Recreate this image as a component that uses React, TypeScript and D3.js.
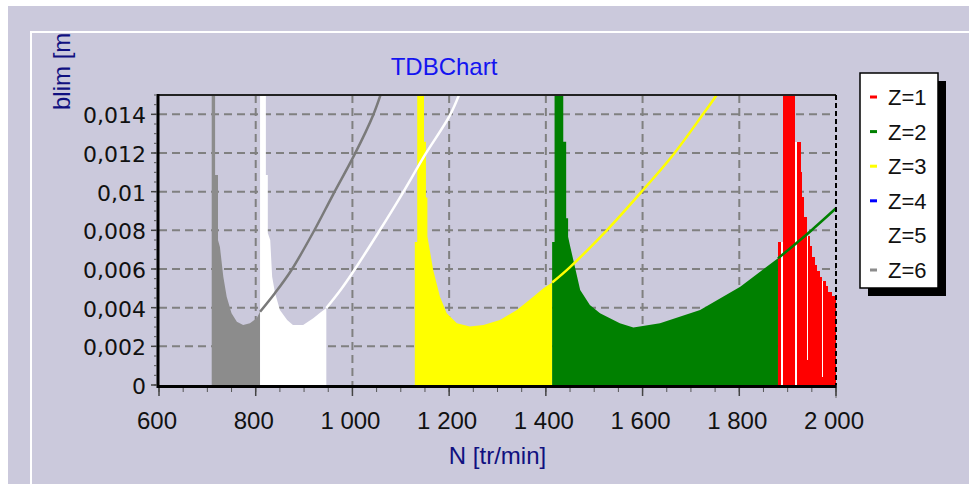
import React from 'react';
import * as d3 from 'd3';

const W = 969;
const H = 484;
const PL = 159, PR = 836, PT = 95, PB = 385;

const xTicks = [600, 800, 1000, 1200, 1400, 1600, 1800, 2000];
const yTicks = [0, 0.002, 0.004, 0.006, 0.008, 0.01, 0.012, 0.014];
const seriesNames = ['Z=1', 'Z=2', 'Z=3', 'Z=4', 'Z=5', 'Z=6'];
const seriesColors = ['#ff0000', '#008000', '#ffff00', '#0000ff', '#ffffff', '#8c8c8c'];

// Z=6 (gray) lobe: filled part then continuing line
const z6Fill: [number, number][] = [
  [709, 0.02], [716, 0.02], [716, 0.01086], [722, 0.01086], [722, 0.0075], [726, 0.00714],
  [733, 0.0056], [740, 0.00457], [750, 0.00371], [761, 0.00327], [774, 0.0031],
  [788, 0.00319], [802, 0.00345], [809, 0.00379],
];
const z6Line: [number, number][] = [
  [809, 0.00379], [840, 0.00476], [874, 0.00595], [919, 0.0079], [960, 0.00985],
  [1004, 0.0119], [1043, 0.01397], [1062, 0.0153],
];
// Z=5 (white)
const z5Fill: [number, number][] = [
  [809, 0.02], [821, 0.02], [821, 0.01086], [825, 0.01086], [825, 0.00786], [830, 0.0075],
  [834, 0.0056], [840, 0.00476], [850, 0.00388], [865, 0.00336], [877, 0.0031],
  [898, 0.0031], [919, 0.00345], [933, 0.00374], [946, 0.00398],
];
const z5Line: [number, number][] = [
  [946, 0.00398], [975, 0.0049], [1004, 0.00595], [1054, 0.0079], [1102, 0.00985],
  [1150, 0.0119], [1202, 0.01397], [1225, 0.0153],
];
// Z=3 (yellow)
const z3Fill: [number, number][] = [
  [1129, 0.0074], [1134, 0.0074], [1134, 0.02], [1148, 0.02], [1148, 0.01258], [1152, 0.01258],
  [1152, 0.0097], [1155, 0.0097], [1155, 0.0077], [1167, 0.00595], [1181, 0.00457],
  [1195, 0.00371], [1216, 0.00319], [1243, 0.00302], [1271, 0.0031], [1305, 0.00336],
  [1340, 0.00388], [1374, 0.00457], [1395, 0.005], [1413, 0.0053],
];
const z3Line: [number, number][] = [
  [1413, 0.0053], [1450, 0.0061], [1526, 0.008], [1598, 0.0100], [1663, 0.0119],
  [1722, 0.0139], [1753, 0.015], [1765, 0.0155],
];
// Z=2 (green)
const z2Fill: [number, number][] = [
  [1413, 0.0074], [1418, 0.0074], [1418, 0.02], [1436, 0.02], [1436, 0.01258], [1442, 0.01258],
  [1442, 0.00862], [1446, 0.00862], [1446, 0.00767], [1450, 0.0072], [1460, 0.00612],
  [1471, 0.00491], [1491, 0.00414], [1512, 0.00371], [1553, 0.00319], [1581, 0.00298],
  [1636, 0.00319], [1719, 0.00388], [1802, 0.00508], [1843, 0.00586], [1880, 0.00655],
];
const z2Line: [number, number][] = [
  [1880, 0.00655], [1946, 0.00793], [2000, 0.00914],
];
// Z=1 (red) bars: start N of each bar and its value; last bar ends at redEnd
const redStart = [1880, 1887, 1891, 1915, 1919, 1928, 1930, 1934, 1940, 1942, 1946, 1950, 1957, 1961, 1967, 1971, 1973, 1979, 1983, 1992];
const redValue = [0.0074, 0, 0.02, 0, 0.01258, 0.011, 0.0097, 0.0087, 0.0013, 0.0077, 0.0072, 0.0066, 0.0062, 0.0059, 0.0056, 0.0004, 0.0054, 0.0051, 0.0048, 0.0046];
const redEnd = 2000;

const SANS = "'Liberation Sans', Arial, sans-serif";
const DEJA = "'DejaVu Sans', sans-serif";

export default function App() {
  const x = d3.scaleLinear().domain([600, 2000]).range([PL, PR]);
  const y = d3.scaleLinear().domain([0, 0.015]).range([PB, PT]);

  const area = d3.area<[number, number]>().x(d => x(d[0])).y0(y(0)).y1(d => y(d[1]));
  const line = d3.line<[number, number]>().x(d => x(d[0])).y(d => y(d[1])).curve(d3.curveCatmullRom.alpha(0.5));

  const fmtX = d3.formatLocale({ decimal: ',', thousands: ' ', grouping: [3], currency: ['', ''] }).format(',');
  const fmtY = (v: number) => d3.format('.3~f')(v).replace('.', ',');

  const minorX = d3.range(600, 2000.1, 50);
  const minorY = d3.range(0, 0.0150001, 0.0005);

  const fills = [
    { d: z6Fill, c: seriesColors[5] },
    { d: z5Fill, c: seriesColors[4] },
    { d: z3Fill, c: seriesColors[2] },
    { d: z2Fill, c: seriesColors[1] },
  ];
  const lines = [
    { d: z6Line, c: '#7a7a7a' },
    { d: z5Line, c: seriesColors[4] },
    { d: z3Line, c: seriesColors[2] },
    { d: z2Line, c: seriesColors[1] },
  ];

  const redBars = redStart.map((s, i) => {
    const e = i < redStart.length - 1 ? redStart[i + 1] : redEnd;
    const prev = i > 0 ? redValue[i - 1] : 0;
    const next = i < redValue.length - 1 ? redValue[i + 1] : 0;
    const env = Math.min(prev, next);
    const gap = redValue[i] < 0.5 * env;
    return { s, e, v: redValue[i], gap, env };
  });

  const legX = 860, legY = 73, legW = 78, legH = 215;
  const rowH = 34.6;

  return (
    <svg width={W} height={H} style={{ position: 'absolute', left: 0, top: 0 }}>
      <defs>
        <clipPath id="plotClip">
          <rect x={PL} y={PT} width={PR - PL} height={PB - PT} />
        </clipPath>
        <clipPath id="panelClip">
          <rect x={32} y={33} width={W} height={H} />
        </clipPath>
      </defs>
      <rect x={0} y={0} width={W} height={H} fill="#ffffff" />
      <rect x={8} y={6} width={W - 8} height={H - 6} fill="#cbc9dc" />
      <line x1={31} y1={32} x2={31} y2={H} stroke="#ffffff" strokeWidth={2} />
      <line x1={30} y1={32} x2={W} y2={32} stroke="#ffffff" strokeWidth={2} />

      {/* grid */}
      <g stroke="#808080" strokeWidth={2} strokeDasharray="8,5">
        {xTicks.slice(1, -1).map(t => (
          <line key={'gx' + t} x1={x(t)} x2={x(t)} y1={PT} y2={PB} />
        ))}
        {yTicks.slice(1).map(t => (
          <line key={'gy' + t} x1={PL} x2={PR} y1={y(t)} y2={y(t)} />
        ))}
      </g>

      <g clipPath="url(#plotClip)">
        {fills.map((f, i) => (
          <path key={'f' + i} d={area(f.d) || ''} fill={f.c} />
        ))}
        {redBars.map((b, i) => (
          <g key={'r' + i} shapeRendering="crispEdges">
            {b.gap && (
              <rect x={x(b.s)} width={x(b.e) - x(b.s)} y={y(b.env)} height={y(b.v) - y(b.env)} fill="#ffffff" />
            )}
            {b.v > 0 && (
              <rect x={x(b.s)} width={x(b.e) - x(b.s)} y={y(b.v)} height={y(0) - y(b.v)} fill={seriesColors[0]} />
            )}
          </g>
        ))}
        {lines.map((l, i) => (
          <path key={'l' + i} d={line(l.d) || ''} fill="none" stroke={l.c} strokeWidth={2.5} />
        ))}
      </g>

      {/* frame */}
      <line x1={PL} x2={PR} y1={PT} y2={PT} stroke="#222" strokeWidth={2} />
      <line x1={PR} x2={PR} y1={PT} y2={PB + 3} stroke="#000" strokeWidth={2} strokeDasharray="5,3" />
      <line x1={PR} x2={PR} y1={PB} y2={PB + 13} stroke="#666" strokeWidth={1} />
      <line x1={PL - 1} x2={PL - 1} y1={PT - 1} y2={PB + 3} stroke="#000" strokeWidth={3} />
      <line x1={PL - 2} x2={PR} y1={PB + 1.5} y2={PB + 1.5} stroke="#000" strokeWidth={3} />

      {/* y axis ticks and labels */}
      <g stroke="#555" strokeWidth={1}>
        {minorY.map((t, i) => (
          <line key={'my' + i} x1={PL - 5} x2={PL - 2} y1={y(t)} y2={y(t)} />
        ))}
      </g>
      <g stroke="#444" strokeWidth={1.5}>
        {yTicks.map(t => (
          <line key={'ty' + t} x1={PL - 8} x2={PL - 2} y1={y(t)} y2={y(t)} />
        ))}
      </g>
      <g fontFamily={DEJA} fontSize={22} fill="#111" textAnchor="end">
        {yTicks.map(t => (
          <text key={'ly' + t} x={146} y={y(t) + 9}>{fmtY(t)}</text>
        ))}
      </g>

      {/* x axis ticks and labels */}
      <g stroke="#555" strokeWidth={1}>
        {minorX.map((t, i) => (
          <line key={'mx' + i} x1={x(t)} x2={x(t)} y1={PB + 3} y2={PB + 7} />
        ))}
      </g>
      <g stroke="#444" strokeWidth={1.5}>
        {xTicks.map(t => (
          <line key={'tx' + t} x1={x(t)} x2={x(t)} y1={PB + 3} y2={PB + 11} />
        ))}
      </g>
      <g fontFamily={SANS} fontSize={24} fill="#111" textAnchor="middle">
        {xTicks.map(t => (
          <text key={'lx' + t} x={x(t) - 2} y={429}>{fmtX(t)}</text>
        ))}
      </g>

      {/* titles */}
      <text x={444} y={75} fontFamily={SANS} fontSize={24} fill="#1414f0" textAnchor="middle">TDBChart</text>
      <text x={(PL + PR) / 2} y={464} fontFamily={SANS} fontSize={24} fill="#101080" textAnchor="middle">N [tr/min]</text>
      <g clipPath="url(#panelClip)">
        <text transform="translate(70,110) rotate(-90)" fontFamily={SANS} fontSize={24} fill="#101080">blim [mm]</text>
      </g>

      {/* legend */}
      <rect x={legX + 8} y={legY + 8} width={legW} height={legH} fill="#000" />
      <rect x={legX} y={legY} width={legW} height={legH} fill="#fff" stroke="#000" strokeWidth={1.5} />
      {seriesNames.map((n, i) => {
        const cy = legY + 24 + i * rowH;
        return (
          <g key={'lg' + n}>
            <rect x={legX + 10} y={cy - 1.5} width={7} height={3} fill={seriesColors[i]} />
            <text x={legX + 28} y={cy + 8} fontFamily={SANS} fontSize={22} fill="#111">{n}</text>
          </g>
        );
      })}
    </svg>
  );
}
